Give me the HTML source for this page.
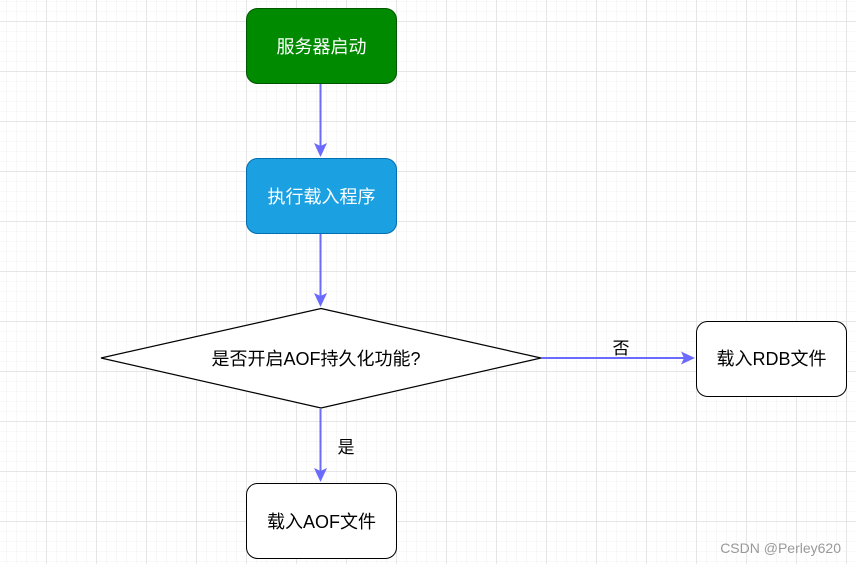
<!DOCTYPE html>
<html><head><meta charset="utf-8"><style>
html,body{margin:0;padding:0;background:#fff}
svg{display:block}
text{font-family:"Liberation Sans","Noto Sans CJK SC",sans-serif}
</style></head><body>
<svg width="856" height="564" viewBox="0 0 856 564" xmlns="http://www.w3.org/2000/svg">
<defs>
<pattern id="minor" x="6" y="1" width="10" height="10" patternUnits="userSpaceOnUse">
<path d="M0 0H10M0 0V10" stroke="#f0f0f0" stroke-width="1" fill="none"/>
</pattern>
<pattern id="major" x="46.5" y="21.5" width="50" height="50" patternUnits="userSpaceOnUse">
<path d="M0 0H50M0 0V50" stroke="#dcdcdc" stroke-width="1" fill="none"/>
</pattern>
</defs>
<rect width="856" height="564" fill="url(#minor)"/>
<rect width="856" height="564" fill="url(#major)"/>

<rect x="246.5" y="8.5" width="150" height="75" rx="11" fill="#008a00" stroke="#005700"/>
<text x="321.5" y="53" font-size="18" fill="#fff" text-anchor="middle">服务器启动</text>

<rect x="246.5" y="158.5" width="150" height="75" rx="11" fill="#1ba1e2" stroke="#006eaf"/>
<text x="321.5" y="203" font-size="18" fill="#fff" text-anchor="middle">执行载入程序</text>

<polygon points="321,308.5 541,358 321,408 101,358" fill="#fff" stroke="#000" stroke-width="1.2"/>
<text x="316" y="365" font-size="18" fill="#000" text-anchor="middle">是否开启AOF持久化功能?</text>

<rect x="696.5" y="321.5" width="150" height="75" rx="11" fill="#fff" stroke="#000"/>
<text x="771.5" y="365" font-size="18" fill="#000" text-anchor="middle">载入RDB文件</text>

<rect x="246.5" y="483.5" width="150" height="75" rx="11" fill="#fff" stroke="#000"/>
<text x="321.5" y="528" font-size="18" fill="#000" text-anchor="middle">载入AOF文件</text>

<g stroke="#6a6aff" stroke-width="2" fill="#6a6aff">
<line x1="320.5" y1="84" x2="320.5" y2="150"/>
<polygon points="314,143 320.5,157 327,143 320.5,146" stroke="none"/>
<line x1="320.5" y1="234" x2="320.5" y2="300"/>
<polygon points="314,293 320.5,307 327,293 320.5,296" stroke="none"/>
<line x1="320.5" y1="409" x2="320.5" y2="475"/>
<polygon points="314,468 320.5,482 327,468 320.5,471" stroke="none"/>
<line x1="541" y1="358" x2="688" y2="358"/>
<polygon points="681,351.5 695,358 681,364.5 684,358" stroke="none"/>
</g>
<text x="621" y="354" font-size="17" fill="#000" text-anchor="middle">否</text>
<text x="346" y="453" font-size="17" fill="#000" text-anchor="middle">是</text>
<text x="841" y="553" font-size="14" fill="#999" text-anchor="end">CSDN @Perley620</text>
</svg>
</body></html>
